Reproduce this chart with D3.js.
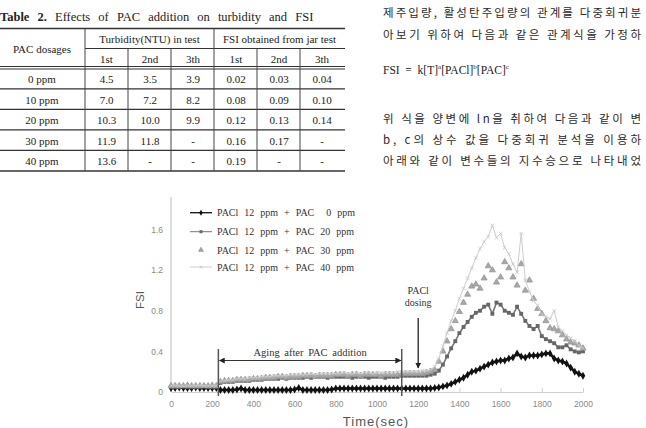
<!DOCTYPE html>
<html>
<head>
<meta charset="utf-8">
<script src="https://cdn.jsdelivr.net/npm/d3@7"></script>
<style>
  html, body { margin: 0; padding: 0; background: #fff; overflow: hidden; }
</style>
</head>
<body>
<svg id="page" width="646" height="428"></svg>
<script>
// Table 2 values
const DOSAGES = ['0 ppm', '10 ppm', '20 ppm', '30 ppm', '40 ppm'];
const RUNS = ['1st', '2nd', '3th'];
const TURBIDITY = [
  ['4.5', '3.5', '3.9'],
  ['7.0', '7.2', '8.2'],
  ['10.3', '10.0', '9.9'],
  ['11.9', '11.8', '-'],
  ['13.6', '-', '-'],
];
const FSI_JAR = [
  ['0.02', '0.03', '0.04'],
  ['0.08', '0.09', '0.10'],
  ['0.12', '0.13', '0.14'],
  ['0.16', '0.17', '-'],
  ['0.19', '-', '-'],
];

// FSI curves, one reading every 20 s
const TIME = [
  0, 20, 40, 60, 80, 100, 120, 140, 160, 180, 200, 220, 240, 260, 280, 300, 320, 340, 360, 380,
  400, 420, 440, 460, 480, 500, 520, 540, 560, 580, 600, 620, 640, 660, 680, 700, 720, 740, 760, 780,
  800, 820, 840, 860, 880, 900, 920, 940, 960, 980, 1000, 1020, 1040, 1060, 1080, 1100, 1120, 1140, 1160, 1180,
  1200, 1220, 1240, 1260, 1280, 1300, 1320, 1340, 1360, 1380, 1400, 1420, 1440, 1460, 1480, 1500, 1520, 1540, 1560, 1580,
  1600, 1620, 1640, 1660, 1680, 1700, 1720, 1740, 1760, 1780, 1800, 1820, 1840, 1860, 1880, 1900, 1920, 1940, 1960, 1980,
  2000,
];
const PAC0 = [
  0.04, 0.04, 0.045, 0.04, 0.04, 0.04, 0.045, 0.04, 0.04, 0.04, 0.04, 0.04,
  0.02, 0.02, 0.02, 0.02, 0.025, 0.035, 0.02, 0.02, 0.02, 0.02,
  0.02, 0.02, 0.02, 0.02, 0.02, 0.02, 0.02, 0.02, 0.025, 0.04,
  0.02, 0.02, 0.02, 0.02, 0.02, 0.02, 0.02, 0.025, 0.035, 0.035,
  0.035, 0.035, 0.035, 0.035, 0.035, 0.035, 0.035, 0.035, 0.035, 0.035,
  0.035, 0.035, 0.035, 0.035, 0.035, 0.035, 0.035, 0.035, 0.035, 0.035,
  0.035, 0.035, 0.04,
  0.045, 0.055, 0.065, 0.08, 0.10, 0.12, 0.14, 0.17, 0.20, 0.21,
  0.23, 0.25, 0.27, 0.29, 0.30, 0.31, 0.31, 0.33, 0.34, 0.38,
  0.35, 0.34, 0.36, 0.36, 0.36, 0.37, 0.38, 0.38, 0.33, 0.31,
  0.30, 0.28, 0.24, 0.20, 0.18, 0.16,
];
const PAC20 = [
  0.05, 0.05, 0.05, 0.055, 0.05, 0.05, 0.05, 0.05, 0.055, 0.05, 0.05, 0.05,
  0.09, 0.10, 0.10, 0.10, 0.11, 0.11, 0.11, 0.11, 0.12,
  0.12, 0.12, 0.13, 0.13, 0.13, 0.13, 0.14, 0.13, 0.14, 0.14,
  0.14, 0.14, 0.15, 0.14, 0.15, 0.15, 0.15, 0.14, 0.15, 0.15,
  0.15, 0.15, 0.15, 0.14, 0.15, 0.15, 0.15, 0.14, 0.15, 0.15,
  0.15, 0.14, 0.15, 0.15, 0.15, 0.16, 0.16, 0.16, 0.16, 0.16,
  0.16, 0.16, 0.17, 0.18,
  0.21, 0.27, 0.35, 0.43, 0.50, 0.58, 0.64, 0.69, 0.74, 0.78,
  0.80, 0.84, 0.86, 0.77, 0.88, 0.86, 0.80, 0.78, 0.76, 0.84,
  0.77, 0.70, 0.65, 0.62, 0.65, 0.55, 0.52, 0.50, 0.48, 0.44,
  0.44, 0.46, 0.42, 0.40, 0.39, 0.40,
];
const PAC30 = [
  0.06, 0.06, 0.06, 0.06, 0.065, 0.06, 0.06, 0.06, 0.06, 0.06, 0.065, 0.06,
  0.10, 0.11, 0.11, 0.11, 0.12, 0.12, 0.12, 0.12, 0.13,
  0.13, 0.13, 0.14, 0.14, 0.14, 0.15, 0.15, 0.14, 0.15, 0.15,
  0.15, 0.16, 0.16, 0.16, 0.15, 0.16, 0.16, 0.16, 0.16, 0.17,
  0.17, 0.17, 0.16, 0.17, 0.17, 0.16, 0.17, 0.17, 0.17, 0.17,
  0.16, 0.17, 0.17, 0.17, 0.17, 0.18, 0.18, 0.18, 0.18, 0.18,
  0.18, 0.19, 0.20, 0.22,
  0.30, 0.40, 0.50, 0.62, 0.70, 0.79, 0.88, 0.96, 1.04, 1.06,
  1.02, 1.12, 1.24, 1.20, 1.08, 1.13, 1.28, 1.22, 1.13, 1.05,
  1.26, 1.00, 1.10, 0.92, 0.82, 0.77, 0.70, 0.63, 0.62, 0.60,
  0.56, 0.52, 0.49, 0.48, 0.46, 0.43,
];
const PAC40 = [
  0.06, 0.065, 0.06, 0.06, 0.06, 0.06, 0.06, 0.065, 0.06, 0.06, 0.06, 0.06,
  0.11, 0.11, 0.12, 0.12, 0.13, 0.13, 0.13, 0.14, 0.14,
  0.14, 0.15, 0.15, 0.15, 0.16, 0.16, 0.16, 0.16, 0.17, 0.17,
  0.17, 0.17, 0.17, 0.18, 0.17, 0.18, 0.18, 0.18, 0.18, 0.18,
  0.18, 0.19, 0.18, 0.18, 0.19, 0.18, 0.19, 0.19, 0.18, 0.19,
  0.19, 0.19, 0.19, 0.19, 0.20, 0.20, 0.20, 0.20, 0.20, 0.20,
  0.21, 0.21, 0.22, 0.25,
  0.33, 0.45, 0.58, 0.70, 0.80, 0.92, 1.02, 1.12, 1.22, 1.32,
  1.41, 1.48, 1.53, 1.64, 1.52, 1.56, 1.42, 1.36, 1.26, 1.18,
  1.56, 1.10, 0.99, 0.90, 0.85, 0.76, 0.74, 0.72, 0.80, 0.64,
  0.60, 0.56, 0.53, 0.50, 0.46, 0.43,
];
const SERIES_LABELS = [
  'PACl 12 ppm + PAC \u00a00 ppm',
  'PACl 12 ppm + PAC 20 ppm',
  'PACl 12 ppm + PAC 30 ppm',
  'PACl 12 ppm + PAC 40 ppm',
];
const X_TICKS = [0, 200, 400, 600, 800, 1000, 1200, 1400, 1600, 1800, 2000];
const Y_TICKS = [0, 0.4, 0.8, 1.2, 1.6];
const AGING_START = 230;
const AGING_END = 1120;
const PACL_DOSING = 1200;

// body text on the right, cut where the page crop cuts it
const KOREAN_LINES = [
  '제주입량, 활성탄주입량의 관계를 다중회귀분',
  '아보기 위하여 다음과 같은 관계식을 가정하',
  '위 식을 양변에 ln을 취하여 다음과 같이 변',
  'b, c의 상수 값을 다중회귀 분석을 이용하',
  '아래와 같이 변수들의 지수승으로 나타내었',
];

const SERIF = '"Liberation Serif", "Times New Roman", serif';
const SANS = '"Liberation Sans", Arial, sans-serif';
const KR = '"Noto Sans CJK KR", sans-serif';

const svg = d3.select('#page');

// ---------- table ----------
const tbl = svg.append('g');
tbl.append('text')
  .attr('x', 0)
  .attr('y', 21)
  .attr('font-family', SERIF)
  .attr('font-size', 12.5)
  .attr('fill', '#222')
  .attr('word-spacing', 5)
  .call(t => {
    t.append('tspan').attr('font-weight', 700).text('Table 2.');
    t.append('tspan').text(' Effects of PAC addition on turbidity and FSI');
  });

const colX = [42, 106.5, 150, 193, 236, 279, 322];
const headY = [39, 59];
const rowY = [79, 99.5, 120, 140.5, 161];
const hline = (y, x1, x2, w) => tbl.append('line')
  .attr('x1', x1).attr('x2', x2).attr('y1', y).attr('y2', y)
  .attr('stroke', '#333').attr('stroke-width', w);
const vline = (x, y1, y2) => tbl.append('line')
  .attr('x1', x).attr('x2', x).attr('y1', y1).attr('y2', y2)
  .attr('stroke', '#444').attr('stroke-width', 1);

hline(28.5, 0, 345, 1.6);
hline(48.5, 85, 345, 1);
hline(66.5, 0, 345, 1);
hline(69, 0, 345, 1);
[88.8, 109.3, 129.8, 150.3].forEach(y => hline(y, 0, 345, 1.2));
hline(171, 0, 345, 1.6);
vline(85, 28.5, 171);
vline(214, 28.5, 171);
[128, 171, 257, 300].forEach(x => vline(x, 48.5, 171));

const cell = (x, y, s) => tbl.append('text')
  .attr('x', x).attr('y', y + 4)
  .attr('text-anchor', 'middle')
  .attr('font-family', SERIF)
  .attr('font-size', 11)
  .attr('fill', '#222')
  .text(s);

cell(42, 49, 'PAC dosages');
cell(149.5, headY[0], 'Turbidity(NTU) in test');
cell(279.5, headY[0], 'FSI obtained from jar test');
RUNS.forEach((r, i) => {
  cell(colX[1 + i], headY[1], r);
  cell(colX[4 + i], headY[1], r);
});
DOSAGES.forEach((d, r) => {
  cell(colX[0], rowY[r], d);
  TURBIDITY[r].forEach((v, i) => cell(colX[1 + i], rowY[r], v));
  FSI_JAR[r].forEach((v, i) => cell(colX[4 + i], rowY[r], v));
});

// ---------- korean column ----------
const krY = [16.5, 38.5, 122.5, 143.5, 164.5];
KOREAN_LINES.forEach((line, i) => {
  svg.append('text')
    .attr('x', 383)
    .attr('y', krY[i])
    .attr('font-family', KR)
    .attr('font-size', 11.5)
    .attr('fill', '#2a2a2a')
    .attr('textLength', 258)
    .attr('lengthAdjust', 'spacing')
    .text(line);
});
svg.append('text')
  .attr('x', 383)
  .attr('y', 74)
  .attr('font-family', SERIF)
  .attr('font-size', 11.5)
  .attr('fill', '#222')
  .call(t => {
    t.append('tspan').text('FSI\u00a0 = \u00a0k[T]');
    t.append('tspan').attr('font-size', 7).attr('dy', -5).text('a');
    t.append('tspan').attr('dy', 5).text('[PACl]');
    t.append('tspan').attr('font-size', 7).attr('dy', -5).text('b');
    t.append('tspan').attr('dy', 5).text('[PAC]');
    t.append('tspan').attr('font-size', 7).attr('dy', -5).text('c');
  });

// ---------- chart ----------
const x = d3.scaleLinear().domain([0, 2000]).range([171, 583]);
const y = d3.scaleLinear().domain([0, 1.9]).range([392, 199]);

const defs = svg.append('defs');
defs.append('marker')
  .attr('id', 'head')
  .attr('viewBox', '0 0 10 10')
  .attr('refX', 9).attr('refY', 5)
  .attr('markerWidth', 6).attr('markerHeight', 6)
  .attr('markerUnits', 'userSpaceOnUse')
  .attr('orient', 'auto-start-reverse')
  .append('path').attr('d', 'M0,0L10,5L0,10Z').attr('fill', '#222');

const chart = svg.append('g');

chart.append('g')
  .attr('transform', `translate(0,${y(0)})`)
  .call(d3.axisBottom(x).tickValues(X_TICKS).tickFormat(d3.format('d'))
    .tickSizeInner(-4).tickSizeOuter(0).tickPadding(9))
  .call(a => a.select('.domain').attr('stroke', '#d0d0d0'))
  .call(a => a.selectAll('line').attr('stroke', '#d0d0d0'))
  .call(a => a.selectAll('text')
    .attr('fill', '#8a8a8a')
    .attr('font-family', SANS)
    .attr('font-size', 8.5));

chart.append('g')
  .attr('transform', `translate(${x(0)},0)`)
  .call(d3.axisLeft(y).tickValues(Y_TICKS).tickSize(0).tickPadding(8)
    .tickFormat(d => (d === 0 ? '0' : d3.format('.1f')(d))))
  .call(a => a.select('.domain').remove())
  .call(a => a.selectAll('text')
    .attr('fill', '#8a8a8a')
    .attr('font-family', SANS)
    .attr('font-size', 8.5));
chart.append('line')
  .attr('x1', x(0)).attr('x2', x(0))
  .attr('y1', y(0)).attr('y2', 197)
  .attr('stroke', '#bdbdbd');

chart.append('text')
  .attr('transform', 'translate(144,300) rotate(-90)')
  .attr('text-anchor', 'middle')
  .attr('font-family', SANS)
  .attr('font-size', 11.5)
  .attr('fill', '#555')
  .text('FSI');
chart.append('text')
  .attr('x', 376)
  .attr('y', 426)
  .attr('text-anchor', 'middle')
  .attr('font-family', SANS)
  .attr('font-size', 13)
  .attr('letter-spacing', 1)
  .attr('fill', '#555')
  .text('Time(sec)');

const series = [
  { values: PAC0, line: '#111', width: 2.6, symbol: d3.symbolDiamond, size: 18, fill: '#111', stroke: 'none' },
  { values: PAC20, line: '#777', width: 1.6, symbol: d3.symbolSquare, size: 15, fill: '#666', stroke: 'none' },
  { values: PAC30, line: null, width: 0, symbol: d3.symbolTriangle, size: 16, fill: '#a8a8a8', stroke: '#959595' },
  { values: PAC40, line: '#cdcdcd', width: 1, symbol: d3.symbolTimes, size: 10, fill: 'none', stroke: '#c4c4c4' },
];

const pts = vals => vals.map((v, i) => [TIME[i], v]);
const lineGen = d3.line().x(d => x(d[0])).y(d => y(d[1]));

series.forEach(s => {
  const g = chart.append('g');
  if (s.line) {
    g.append('path')
      .attr('d', lineGen(pts(s.values)))
      .attr('fill', 'none')
      .attr('stroke', s.line)
      .attr('stroke-width', s.width);
  }
  g.selectAll('path.mk').data(pts(s.values)).join('path')
    .attr('class', 'mk')
    .attr('transform', d => `translate(${x(d[0])},${y(d[1])})`)
    .attr('d', d3.symbol(s.symbol, s.size))
    .attr('fill', s.fill)
    .attr('stroke', s.stroke)
    .attr('stroke-width', 0.8);
});

// legend
const legY = [212.7, 231.7, 250, 267];
series.forEach((s, i) => {
  const item = chart.append('g').attr('transform', `translate(190,${legY[i]})`);
  if (s.line) {
    item.append('line')
      .attr('x1', 0).attr('x2', 22)
      .attr('stroke', s.line)
      .attr('stroke-width', s.width > 2 ? 1.3 : 1);
  }
  item.append('path')
    .attr('transform', 'translate(11,0)')
    .attr('d', d3.symbol(s.symbol, s.size * 0.6))
    .attr('fill', s.fill)
    .attr('stroke', s.stroke)
    .attr('stroke-width', 0.8);
  item.append('text')
    .attr('x', 27)
    .attr('y', 3.5)
    .attr('font-family', SERIF)
    .attr('font-size', 10)
    .attr('word-spacing', 3.5)
    .attr('fill', '#333')
    .text(SERIES_LABELS[i]);
});

// aging annotation
[AGING_START, AGING_END].forEach(t => {
  chart.append('line')
    .attr('x1', x(t)).attr('x2', x(t))
    .attr('y1', 349).attr('y2', 396)
    .attr('stroke', '#555')
    .attr('stroke-width', 1.5);
});
chart.append('line')
  .attr('x1', x(AGING_START) + 1).attr('x2', x(AGING_END) - 1)
  .attr('y1', 360.5).attr('y2', 360.5)
  .attr('stroke', '#333')
  .attr('stroke-width', 1.1)
  .attr('marker-start', 'url(#head)')
  .attr('marker-end', 'url(#head)');
chart.append('text')
  .attr('x', (x(AGING_START) + x(AGING_END)) / 2)
  .attr('y', 356)
  .attr('text-anchor', 'middle')
  .attr('font-family', SERIF)
  .attr('font-size', 10.5)
  .attr('word-spacing', 2)
  .attr('fill', '#333')
  .text('Aging after PAC addition');

// PACl dosing arrow
chart.append('line')
  .attr('x1', x(PACL_DOSING)).attr('x2', x(PACL_DOSING))
  .attr('y1', 318).attr('y2', 368)
  .attr('stroke', '#222')
  .attr('stroke-width', 1.3)
  .attr('marker-end', 'url(#head)');
chart.append('text')
  .attr('x', x(PACL_DOSING))
  .attr('text-anchor', 'middle')
  .attr('font-family', SERIF)
  .attr('font-size', 10)
  .attr('fill', '#333')
  .call(t => {
    t.append('tspan').attr('x', x(PACL_DOSING)).attr('y', 294).text('PACl');
    t.append('tspan').attr('x', x(PACL_DOSING)).attr('y', 306).text('dosing');
  });
</script>
</body>
</html>
